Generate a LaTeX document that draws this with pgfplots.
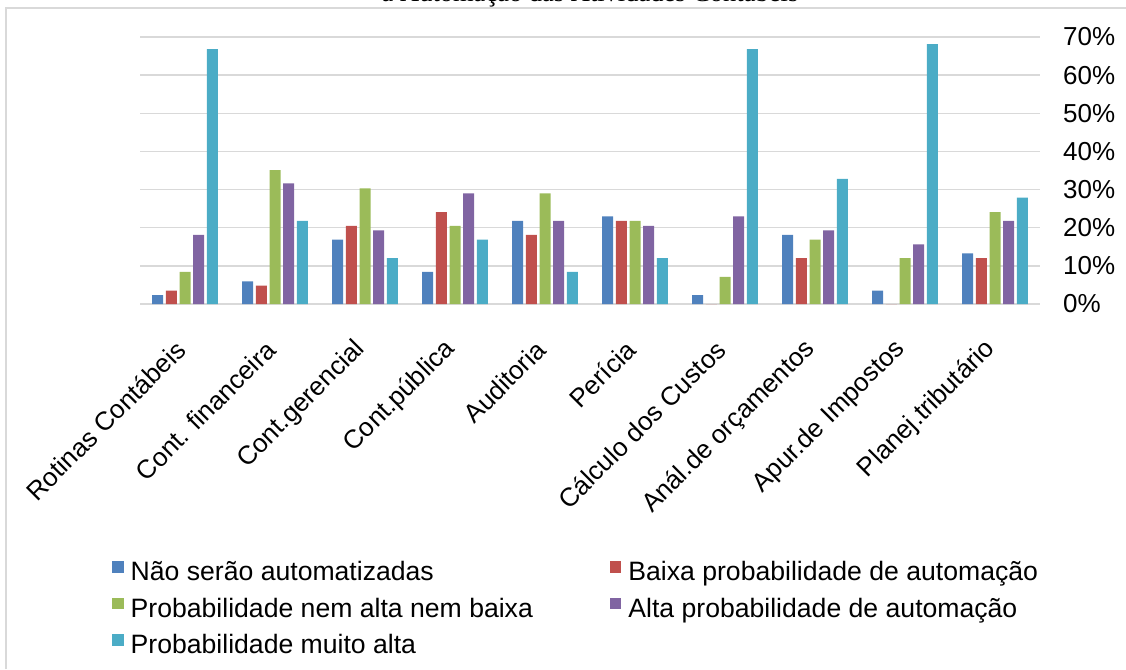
\documentclass[border=0pt]{standalone}
\usepackage{pgfplots}
\pgfplotsset{compat=1.18}
\usepackage{fontspec}
\setmainfont{Liberation Sans}
\newfontfamily\titleserif{Liberation Serif}
\definecolor{s1}{HTML}{4F81BD}
\definecolor{s2}{HTML}{C0504D}
\definecolor{s3}{HTML}{9BBB59}
\definecolor{s4}{HTML}{8064A2}
\definecolor{s5}{HTML}{4BACC6}
\definecolor{gridc}{HTML}{D9D9D9}
\begin{document}
\begin{tikzpicture}[x=1pt,y=1pt]
\useasboundingbox (0,0) rectangle (1126,669);
\draw[gridc, line width=1.5pt] (6,0) -- (6,661) -- (1130,661);
\node[anchor=base, font=\titleserif\fontsize{26.5}{30}\selectfont, inner sep=0pt] at (590,667) {a Automação das Atividades Contábeis};
\begin{axis}[
  at={(140pt,365pt)}, anchor=south west,
  width=900pt, height=267pt, scale only axis,
  xmin=-0.5, xmax=9.5, ymin=0, ymax=70,
  ybar=2.7pt, bar width=11pt,
  axis x line*=bottom, axis y line*=right,
  x axis line style={gridc, line width=1.5pt, -},
  y axis line style={draw=none},
  xtick={0,...,9},
  xticklabels={Rotinas Contábeis, Cont. financeira, Cont.gerencial, Cont.pública, Auditoria, Perícia, Cálculo dos Custos, Anál.de orçamentos, Apur.de Impostos, Planej.tributário},
  ytick={0,10,...,70},
  yticklabels={0\%,10\%,20\%,30\%,40\%,50\%,60\%,70\%},
  tick style={draw=none},
  ymajorgrids, major grid style={gridc, line width=1.5pt},
  x tick label style={font=\fontsize{26}{30}\selectfont, xshift=-4pt, rotate=45, anchor=east, inner sep=0pt},
  xticklabel shift=37pt,
  y tick label style={font=\fontsize{26}{30}\selectfont, anchor=west, inner sep=0pt},
  yticklabel shift=23pt,
  legend columns=2,
  legend cell align=left,
  legend image code/.code={\draw[#1, draw=none] (0pt,1.5pt) rectangle (11.5pt,13pt);},
  legend style={at={(rel axis cs:-0.0311,-0.962)}, anchor=north west, draw=none, fill=none, inner sep=0pt,
    font=\fontsize{26.6}{30}\selectfont,
    nodes={inner xsep=7pt, inner ysep=0pt, text height=19pt, text depth=6pt},
    row sep=11pt,
    /tikz/every even column/.append style={column sep=70pt}},
]
\addplot[fill=s1, draw=none] coordinates {(0,2.3) (1,5.9) (2,16.9) (3,8.4) (4,21.8) (5,23.0) (6,2.3) (7,18.1) (8,3.5) (9,13.3)};
\addplot[fill=s2, draw=none] coordinates {(0,3.5) (1,4.8) (2,20.5) (3,24.1) (4,18.1) (5,21.8) (6,0) (7,12.0) (8,0) (9,12.0)};
\addplot[fill=s3, draw=none] coordinates {(0,8.4) (1,35.1) (2,30.3) (3,20.5) (4,29.0) (5,21.8) (6,7.1) (7,16.9) (8,12.0) (9,24.1)};
\addplot[fill=s4, draw=none] coordinates {(0,18.1) (1,31.6) (2,19.3) (3,29.0) (4,21.8) (5,20.5) (6,23.0) (7,19.3) (8,15.6) (9,21.8)};
\addplot[fill=s5, draw=none] coordinates {(0,66.8) (1,21.8) (2,12.0) (3,16.9) (4,8.4) (5,12.0) (6,66.8) (7,32.8) (8,68.1) (9,27.9)};
\legend{Não serão automatizadas, Baixa probabilidade de automação, Probabilidade nem alta nem baixa, Alta probabilidade de automação, Probabilidade muito alta}
\end{axis}
\end{tikzpicture}
\end{document}
